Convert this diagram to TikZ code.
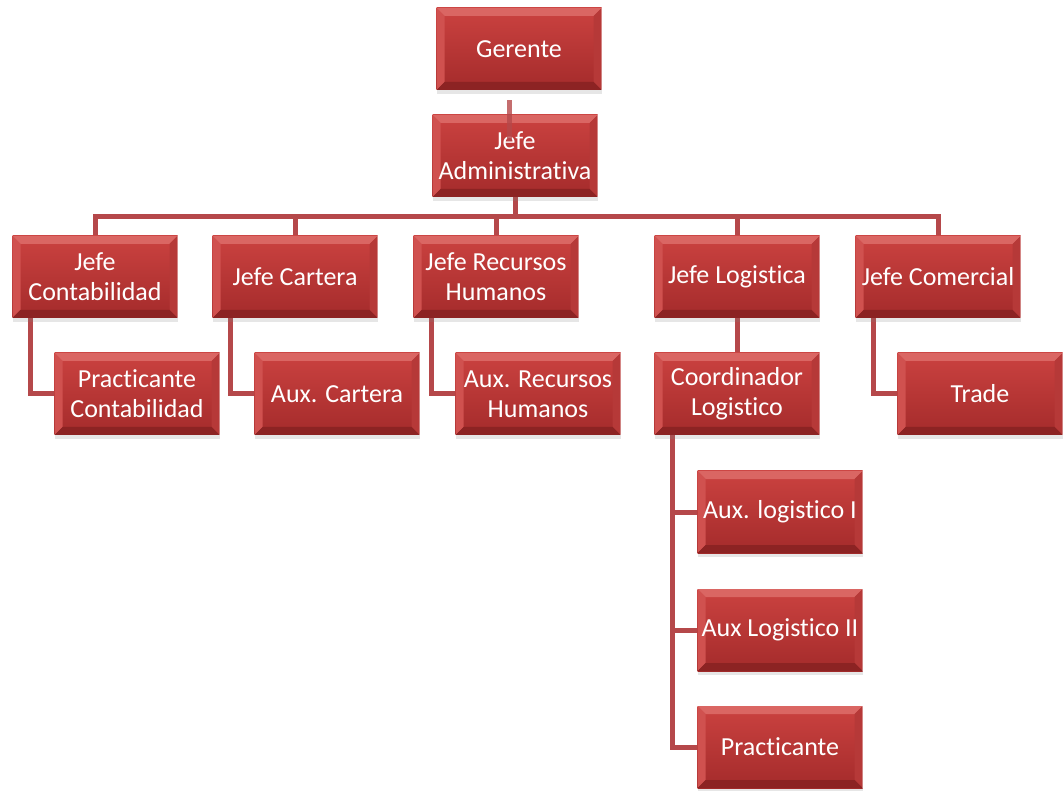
\documentclass[tikz,border=0pt]{standalone}
\usepackage{fontspec}
\setmainfont{Carlito}[Ligatures={NoCommon},RawFeature=-clig]
\usetikzlibrary{shadows,backgrounds}
\definecolor{faceTop}{HTML}{CB4240}
\definecolor{faceBot}{HTML}{A42B2B}
\definecolor{bevelTop}{HTML}{DA6663}
\definecolor{bevelLeft}{HTML}{D0514F}
\definecolor{bevelRight}{HTML}{B63938}
\definecolor{bevelBot}{HTML}{8C2323}
\definecolor{linkRed}{HTML}{B5484A}
\begin{document}
\begin{tikzpicture}[x=0.75pt,y=-0.75pt]
  \tikzstyle{cargo} = [rectangle, minimum width = 123.75pt, minimum height = 61.5pt, inner sep = 0pt, align = center, text = white, font = \fontsize{19.5}{22.5}\selectfont, top color = faceTop, bottom color = faceBot, drop shadow = {shadow xshift = 0pt, shadow yshift = -3pt, opacity = 0.2},
    path picture = {
      \coordinate (nw) at (path picture bounding box.north west);
      \coordinate (ne) at (path picture bounding box.north east);
      \coordinate (sw) at (path picture bounding box.south west);
      \coordinate (se) at (path picture bounding box.south east);
      \fill[bevelTop] (nw) -- (ne) -- ([shift={(-6pt,-6pt)}]ne) -- ([shift={(6pt,-6pt)}]nw) -- cycle;
      \fill[bevelLeft] (nw) -- (sw) -- ([shift={(6pt,6pt)}]sw) -- ([shift={(6pt,-6pt)}]nw) -- cycle;
      \fill[bevelRight] (ne) -- (se) -- ([shift={(-6pt,6pt)}]se) -- ([shift={(-6pt,-6pt)}]ne) -- cycle;
      \fill[bevelBot] (sw) -- (se) -- ([shift={(-6pt,6pt)}]se) -- ([shift={(6pt,6pt)}]sw) -- cycle;
      \draw[white, opacity = 0.6, line width = 1pt] (ne) -- (se);
    }]
  \tikzstyle{link} = [draw = linkRed, line width = 3.75pt]

  \useasboundingbox (0,0) rectangle (1064,791);

  \node [cargo] at (519,49) (ger) {Gerente};
  \node [cargo] at (515,156) (adm) {Jefe\\Administrativa};
  \node [cargo] at (95,277) (jcon) {Jefe\\Contabilidad};
  \node [cargo] at (295,277) (jcar) {Jefe Cartera};
  \node [cargo] at (496,277) (jrh) {Jefe Recursos\\Humanos};
  \node [cargo] at (737,277) (jlog) {Jefe Logistica};
  \node [cargo] at (938,277) (jcom) {Jefe Comercial};
  \node [cargo] at (137,394) (pcon) {Practicante\\Contabilidad};
  \node [cargo] at (337,394) (acar) {Aux. Cartera};
  \node [cargo] at (538,394) (arh) {Aux. Recursos\\Humanos};
  \node [cargo] at (737,394) (clog) {Coordinador\\Logistico};
  \node [cargo] at (980,394) (trade) {Trade};
  \node [cargo] at (780,512) (alog1) {Aux. logistico I};
  \node [cargo] at (780,630) (alog2) {Aux Logistico II};
  \node [cargo] at (780,747) (prac) {Practicante};

  \begin{scope}[on background layer]
    \coordinate (bus) at (515,217);
    \draw[link] (adm) -- (bus);
    \draw[link] (jcon.north) |- (bus) -| (jcom.north);
    \foreach \n in {jcar,jrh,jlog}
      \draw[link] (bus -| \n) -- (\n.north);
    \foreach \a/\b in {jcon/pcon,jcar/acar,jrh/arh,jcom/trade}
      \draw[link] ([xshift=-48.75pt]\a.south) |- (\b.west);
    \draw[link] (jlog) -- (clog);
    \foreach \b in {alog1,alog2,prac}
      \draw[link] ([xshift=-48.75pt]clog.south) |- (\b.west);
  \end{scope}
  \draw[link, opacity = 0.8] ([xshift=-7.5pt,yshift=-7.5pt]ger.south) -- ([xshift=-4.5pt,yshift=-20pt]adm.north);
\end{tikzpicture}
\end{document}
